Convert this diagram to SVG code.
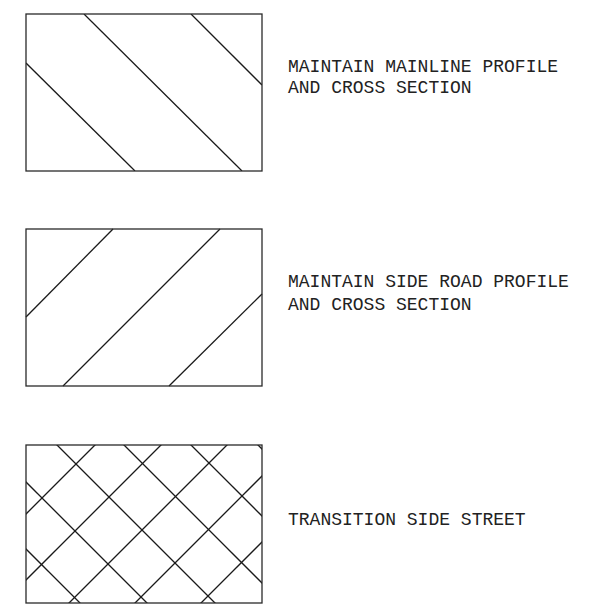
<svg xmlns="http://www.w3.org/2000/svg" width="589" height="611" viewBox="0 0 589 611">
<style>
.box{fill:none;stroke:#2a2a2a;stroke-width:1.3}
.hatch{fill:none;stroke:#1a1a1a;stroke-width:1.3}
.lbl{font-family:"Liberation Mono","DejaVu Sans Mono",monospace;font-size:18px;fill:#222}
</style>
<defs>
<clipPath id="c1"><rect x="26" y="14" width="236" height="157"/></clipPath>
<clipPath id="c2"><rect x="26" y="229" width="236" height="157"/></clipPath>
<clipPath id="c3"><rect x="26" y="445" width="236" height="158"/></clipPath>
</defs>
<rect width="589" height="611" fill="#fff"/>
<g id="mainline">
<g clip-path="url(#c1)" class="hatch">
<line x1="84" y1="14" x2="242" y2="171"/>
<line x1="191" y1="14" x2="262" y2="85"/>
<line x1="26" y1="63" x2="135" y2="171"/>
</g>
<rect class="box" x="26" y="14" width="236" height="157"/>
<text class="lbl" x="288" y="72">MAINTAIN MAINLINE PROFILE</text>
<text class="lbl" x="288" y="93">AND CROSS SECTION</text>
</g>
<g id="side-road">
<g class="hatch">
<line x1="26" y1="317" x2="113" y2="229"/>
<line x1="63" y1="386" x2="220" y2="229"/>
<line x1="169" y1="386" x2="262" y2="294"/>
</g>
<rect class="box" x="26" y="229" width="236" height="157"/>
<text class="lbl" x="288" y="287">MAINTAIN SIDE ROAD PROFILE</text>
<text class="lbl" x="288" y="310">AND CROSS SECTION</text>
</g>
<g id="transition">
<g clip-path="url(#c3)" class="hatch">
<line x1="-100" y1="356" x2="300" y2="756"/>
<line x1="-100" y1="423" x2="300" y2="823"/>
<line x1="-100" y1="288" x2="300" y2="688"/>
<line x1="-100" y1="221" x2="300" y2="621"/>
<line x1="-100" y1="154" x2="300" y2="554"/>
<line x1="-100" y1="87" x2="300" y2="487"/>
<line x1="-100" y1="640" x2="300" y2="240"/>
<line x1="-100" y1="706" x2="300" y2="306"/>
<line x1="-100" y1="772" x2="300" y2="372"/>
<line x1="-100" y1="838" x2="300" y2="438"/>
<line x1="-100" y1="904" x2="300" y2="504"/>
</g>
<rect class="box" x="26" y="445" width="236" height="158"/>
<text class="lbl" x="288" y="525">TRANSITION SIDE STREET</text>
</g>
<g id="connectors"/>
</svg>
